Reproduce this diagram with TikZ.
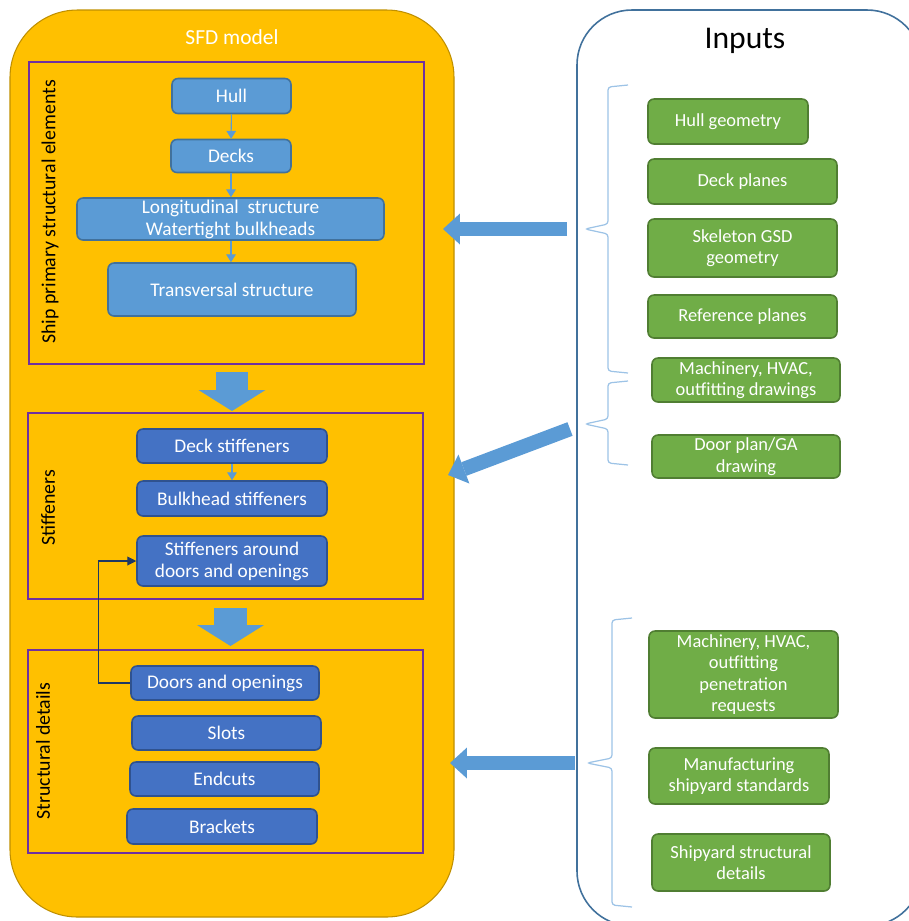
\documentclass[tikz,border=0pt]{standalone}
\usepackage{fontspec}
\setmainfont{Carlito}
\usetikzlibrary{arrows.meta}
\definecolor{sfdorange}{HTML}{FFC000}
\definecolor{sfdedge}{HTML}{C09000}
\definecolor{lightblue}{HTML}{5B9BD5}
\definecolor{lightedge}{HTML}{41719C}
\definecolor{darkblue}{HTML}{4472C4}
\definecolor{darkedge}{HTML}{2F528F}
\definecolor{inpgreen}{HTML}{70AD47}
\definecolor{greenedge}{HTML}{507E32}
\definecolor{secpurple}{HTML}{7030A0}
\definecolor{panelblue}{HTML}{41719C}
\definecolor{bracecol}{HTML}{9DC3E6}
\definecolor{navy}{HTML}{1F3864}

\begin{document}
\begin{tikzpicture}[x=0.02cm,y=-0.02cm]
\tikzset{boxtext/.style={rounded corners=0.12cm, inner sep=0pt, align=center, text=white, line width=0.9pt, font=\fontsize{11}{12.5}\selectfont},
elem/.style={boxtext, draw=lightedge, fill=lightblue},
stiff/.style={boxtext, draw=darkedge, fill=darkblue},
inp/.style={boxtext, draw=greenedge, fill=inpgreen, font=\fontsize{10.5}{12.3}\selectfont},
sect/.style={draw=secpurple, line width=0.8pt, inner sep=0pt},
sidelab/.style={rotate=90, font=\fontsize{11.3}{13}\selectfont},
thinarr/.style={draw=lightblue, line width=0.6pt, -{Triangle[length=4.5pt,width=5.5pt]}},
bigdown/.style={draw=lightblue, line width=0.66cm, -{Triangle[length=0.42cm,width=1.34cm,line width=0pt]}},
blockarr/.style={draw=lightblue, line width=0.29cm, -{Triangle[length=0.34cm,width=0.62cm,line width=0pt]}},
bracepath/.style={draw=bracecol, line width=0.7pt, rounded corners=0.06cm}}
\useasboundingbox (0,0) rectangle (909,921);
\clip (0,0) rectangle (909,921);
\draw[fill=sfdorange, draw=sfdedge, line width=0.6pt, rounded corners=1.35cm] (10,10) rectangle (454,917);
\draw[draw=panelblue, line width=0.9pt, rounded corners=1.1cm] (577,10) rectangle (922,926);
\node[text=white, font=\fontsize{12.2}{14}\selectfont] (sfdtitle) at (232,37) {SFD model};
\node[font=\fontsize{18}{21}\selectfont] (inptitle) at (745,41) {Inputs};
\node[sect, minimum width=7.90cm, minimum height=6.04cm] (sec1) at (226.5,213) {};
\node[sect, minimum width=7.90cm, minimum height=3.72cm] (sec2) at (225.5,506) {};
\node[sect, minimum width=7.90cm, minimum height=4.06cm] (sec3) at (225.5,751.5) {};
\node[sidelab] (lab1) at (50,212) {Ship primary structural elements};
\node[sidelab] (lab2) at (48,508) {Stiffeners};
\node[sidelab] (lab3) at (43,751) {Structural details};
\node[elem, minimum width=2.38cm, minimum height=0.70cm] (hull) at (231.5,96) {Hull};
\node[elem, minimum width=2.40cm, minimum height=0.66cm] (decks) at (231,156) {Decks};
\node[elem, minimum width=6.14cm, minimum height=0.84cm] (longi) at (230.5,219) {Longitudinal~ structure\\Watertight bulkheads};
\node[elem, minimum width=4.96cm, minimum height=1.06cm] (trans) at (232,289.5) {Transversal structure};
\node[stiff, minimum width=3.80cm, minimum height=0.68cm] (deckst) at (232,446) {Deck stiffeners};
\node[stiff, minimum width=3.80cm, minimum height=0.70cm] (bulkst) at (232,498.5) {Bulkhead stiffeners};
\node[stiff, minimum width=3.80cm, minimum height=1.00cm] (around) at (232,561) {Stiffeners around\\doors and openings};
\node[stiff, minimum width=3.76cm, minimum height=0.68cm] (doors) at (225,683) {Doors and openings};
\node[stiff, minimum width=3.78cm, minimum height=0.68cm] (slots) at (226.5,733) {Slots};
\node[stiff, minimum width=3.78cm, minimum height=0.68cm] (endcuts) at (224.5,779) {Endcuts};
\node[stiff, minimum width=3.80cm, minimum height=0.70cm] (brackets) at (222,826.5) {Brackets};
\node[inp, minimum width=3.20cm, minimum height=0.90cm] (hullgeo) at (728,121.5) {Hull geometry};
\node[inp, minimum width=3.78cm, minimum height=0.90cm] (deckpl) at (742.5,181.5) {Deck planes};
\node[inp, minimum width=3.78cm, minimum height=1.16cm] (skel) at (742.5,248) {Skeleton GSD\\geometry};
\node[inp, minimum width=3.78cm, minimum height=0.86cm] (refpl) at (742.5,316.5) {Reference planes};
\node[inp, minimum width=3.76cm, minimum height=0.88cm] (machdr) at (746,380) {Machinery, HVAC,\\outfitting drawings};
\node[inp, minimum width=3.76cm, minimum height=0.86cm] (doorpl) at (746,456.5) {Door plan/GA\\drawing};
\node[inp, minimum width=3.78cm, minimum height=1.74cm] (penreq) at (743.5,674.5) {Machinery, HVAC,\\outfitting\\penetration\\requests};
\node[inp, minimum width=3.60cm, minimum height=1.12cm] (manstd) at (739,776) {Manufacturing\\shipyard standards};
\node[inp, minimum width=3.56cm, minimum height=1.14cm] (yarddet) at (741,862.5) {Shipyard structural\\details};
\draw[thinarr] (hull) -- (decks);
\draw[thinarr] (decks) -- (decks |- longi.north);
\draw[thinarr] (decks |- longi.south) -- (decks |- trans.north);
\draw[thinarr] (deckst) -- (bulkst);
\draw[navy, line width=0.6pt, -{Triangle[length=5pt,width=5pt]}] (doors.west) -- ++(-32,0) |- (around.west);
\coordinate (down1) at (232,372);
\coordinate (down1tip) at (232,411);
\coordinate (down2) at (230.5,608);
\coordinate (down2tip) at (230.5,646);
\draw[bigdown] (down1) -- (down1tip);
\draw[bigdown] (down2) -- (down2tip);
\draw[bracepath] (628,85) -- (608,87) -- (608,224) -- (585,229) -- (608,234) -- (608,371) -- (628,373);
\draw[bracepath] (628,381) -- (608,383) -- (608,419) -- (585,424) -- (608,429) -- (608,463) -- (628,465);
\draw[bracepath] (632,618) -- (612,620) -- (612,758) -- (587,763) -- (612,768) -- (612,905) -- (632,907);
\coordinate (from1) at (567,229);
\coordinate (to1) at (443,229);
\coordinate (from2) at (570,429);
\coordinate (to2) at (448,475);
\coordinate (from3) at (575,763);
\coordinate (to3) at (450,763);
\draw[blockarr] (from1) -- (to1);
\draw[blockarr] (from2) -- (to2);
\draw[blockarr] (from3) -- (to3);
\end{tikzpicture}
\end{document}
